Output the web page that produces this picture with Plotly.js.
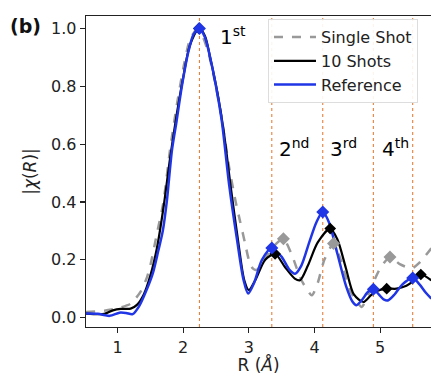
<!DOCTYPE html>
<html>
<head>
<meta charset="utf-8">
<script src="https://cdn.plot.ly/plotly-3.0.1.min.js"></script>
<style>html,body{margin:0;padding:0;background:#fff;}#chart{width:431px;height:375px;}</style>
</head>
<body>
<div id="chart"></div>
<script>
// Reference (blue)
const refR = [0.52,0.70,0.88,1.03,1.13,1.23,1.33,1.45,1.54,1.62,1.69,1.75,1.83,1.90,1.98,2.08,2.16,2.248,2.33,2.42,2.50,2.59,2.70,2.82,2.92,2.99,3.08,3.20,3.35,3.50,3.62,3.705,3.80,3.92,4.03,4.126,4.22,4.35,4.48,4.58,4.64,4.72,4.82,4.897,4.98,5.06,5.125,5.22,5.34,5.496,5.60,5.70,5.78];
const refY = [0.014,0.013,0.006,0.017,0.016,0.012,0.040,0.100,0.155,0.230,0.300,0.400,0.580,0.680,0.800,0.920,0.980,1.000,0.970,0.890,0.800,0.677,0.460,0.270,0.130,0.083,0.120,0.200,0.241,0.210,0.165,0.152,0.180,0.260,0.330,0.365,0.330,0.220,0.110,0.055,0.043,0.060,0.090,0.098,0.080,0.062,0.060,0.080,0.115,0.137,0.115,0.085,0.066];
// 10 Shots (black)
const tenR = [0.52,0.80,0.93,1.05,1.20,1.30,1.40,1.50,1.60,1.70,1.80,1.90,2.00,2.10,2.24,2.33,2.42,2.52,2.62,2.72,2.84,2.93,3.00,3.10,3.25,3.40,3.55,3.70,3.78,3.90,4.05,4.24,4.35,4.48,4.60,4.745,4.85,4.95,5.10,5.25,5.40,5.50,5.62,5.78];
const tenY = [0.014,0.013,0.025,0.030,0.031,0.045,0.080,0.145,0.240,0.380,0.550,0.700,0.830,0.940,1.000,0.975,0.890,0.780,0.640,0.460,0.260,0.130,0.095,0.130,0.200,0.220,0.175,0.135,0.129,0.180,0.260,0.308,0.270,0.170,0.080,0.054,0.075,0.092,0.100,0.100,0.110,0.125,0.149,0.129];
// Single Shot (gray dashed)
const oneR = [0.52,0.80,1.00,1.20,1.35,1.45,1.50,1.60,1.70,1.80,1.90,2.00,2.10,2.20,2.28,2.38,2.48,2.58,2.70,2.80,2.87,2.94,3.00,3.06,3.12,3.20,3.35,3.527,3.65,3.80,3.96,4.05,4.15,4.29,4.40,4.55,4.72,4.82,4.90,5.00,5.15,5.30,5.48,5.60,5.78];
const oneY = [0.019,0.024,0.032,0.048,0.089,0.140,0.180,0.290,0.400,0.580,0.730,0.860,0.960,0.995,0.980,0.920,0.820,0.700,0.520,0.400,0.330,0.260,0.200,0.170,0.165,0.185,0.240,0.273,0.220,0.130,0.077,0.120,0.200,0.256,0.200,0.090,0.037,0.080,0.123,0.170,0.210,0.185,0.170,0.190,0.240];
// Peak markers
const refPeakR = [2.248,3.35,4.126,4.897,5.496];
const refPeakY = [1.000,0.241,0.365,0.098,0.137];
const tenPeakR = [2.24,3.40,4.24,5.10,5.62];
const tenPeakY = [1.000,0.220,0.308,0.100,0.149];
const onePeakR = [3.527,4.29,5.15];
const onePeakY = [0.273,0.256,0.210];
// Shell labels
const shellLabels = ["1<sup>st</sup>","2<sup>nd</sup>","3<sup>rd</sup>","4<sup>th</sup>"];
const shellLabelX = [2.53,3.43,4.20,5.00];
const shellLabelY = [0.935,0.575,0.575,0.575];

const FONT = "DejaVu Sans, sans-serif";
const traces = [
  {x: oneR, y: oneY, mode: 'lines', name: 'Single Shot', line: {color: '#999999', width: 2.5, dash: 'dash', shape: 'spline', smoothing: 0.6}},
  {x: tenR, y: tenY, mode: 'lines', name: '10 Shots', line: {color: '#000000', width: 2.2, shape: 'spline', smoothing: 0.8}},
  {x: refR, y: refY, mode: 'lines', name: 'Reference', line: {color: '#1f35e6', width: 2.5, shape: 'spline', smoothing: 0.8}},
  {x: onePeakR, y: onePeakY, mode: 'markers', showlegend: false, marker: {symbol: 'diamond', size: 10, color: '#999999'}},
  {x: tenPeakR, y: tenPeakY, mode: 'markers', showlegend: false, marker: {symbol: 'diamond', size: 9, color: '#000000'}},
  {x: refPeakR, y: refPeakY, mode: 'markers', showlegend: false, marker: {symbol: 'diamond', size: 10, color: '#1f35e6'}}
];

const shapes = refPeakR.map(r => ({type: 'line', xref: 'x', yref: 'paper', x0: r, x1: r, y0: 0, y1: 1, line: {color: '#e8803a', width: 1.1, dash: 'dot'}, layer: 'below'}));

const annotations = shellLabels.map((t, i) => ({text: t, xref: 'x', yref: 'paper', x: shellLabelX[i], y: shellLabelY[i], xanchor: 'left', yanchor: 'middle', showarrow: false, font: {family: FONT, size: 20, color: '#000'}}));
annotations.push({text: '<b>(b)</b>', xref: 'paper', yref: 'paper', x: -0.225, y: 0.969, xanchor: 'left', yanchor: 'middle', showarrow: false, font: {family: FONT, size: 19, color: '#111'}});

const layout = {
  width: 431, height: 375,
  margin: {l: 86, r: 0, t: 16, b: 48.3},
  paper_bgcolor: '#fff', plot_bgcolor: '#fff',
  font: {family: FONT, size: 16, color: '#222'},
  xaxis: {range: [0.52, 5.775], tickvals: [1,2,3,4,5], ticktext: ['1','2','3','4','5'], ticks: 'outside', ticklen: 5, tickwidth: 1.2, tickcolor: '#222', showline: true, linecolor: '#222', linewidth: 1.3, mirror: true, showgrid: false, zeroline: false, title: {text: 'R (<i>Å</i>)', font: {family: FONT, size: 17, color: '#222'}, standoff: 8}, tickfont: {family: FONT, size: 16, color: '#222'}},
  yaxis: {range: [-0.0325, 1.043], tickvals: [0,0.2,0.4,0.6,0.8,1.0], ticktext: ['0.0','0.2','0.4','0.6','0.8','1.0'], ticks: 'outside', ticklen: 5, tickwidth: 1.2, tickcolor: '#222', showline: true, linecolor: '#222', linewidth: 1.3, mirror: false, showgrid: false, zeroline: false, title: {text: '|<i>χ</i>(<i>R</i>)|', font: {family: FONT, size: 17, color: '#222'}, standoff: 10}, tickfont: {family: FONT, size: 16, color: '#222'}},
  legend: {x: 0.5275, y: 0.99, xanchor: 'left', yanchor: 'top', itemwidth: 42, bgcolor: 'rgba(255,255,255,0.9)', bordercolor: '#dddddd', borderwidth: 1, font: {family: FONT, size: 16, color: '#222'}},
  shapes: shapes,
  annotations: annotations,
  showlegend: true
};

Plotly.newPlot('chart', traces, layout, {displayModeBar: false, staticPlot: true});
</script>
</body>
</html>
